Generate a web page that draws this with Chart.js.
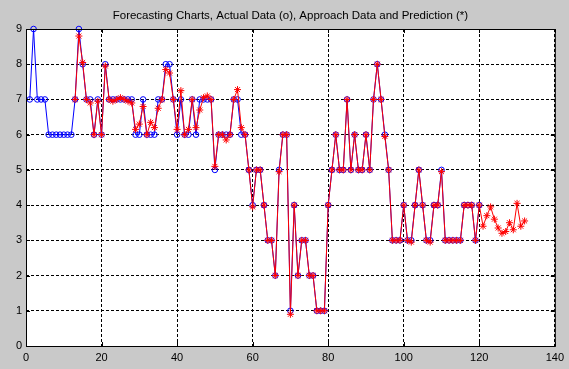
<!DOCTYPE html>
<html>
<head>
<meta charset="utf-8">
<title>Forecasting Charts</title>
<script src="https://cdn.jsdelivr.net/npm/chart.js@4.4.1/dist/chart.umd.min.js"></script>
<style>
  body { margin: 0; background: #c9c9c9; }
  #wrap { width: 569px; height: 369px; }
</style>
</head>
<body>
<div id="wrap"><canvas id="forecast-chart" width="569" height="369"></canvas></div>
<script>
/*////////////////////////////////
///           Data             ///
////////////////////////////////*/

// actual data (o), samples 1..120
const actualData = [
  7, 9, 7, 7, 7, 6, 6, 6, 6, 6, 6, 6,
  7, 9, 8, 7, 7, 6, 7, 6,
  8, 7, 7, 7, 7, 7, 7, 7, 6, 6,
  7, 6, 6, 6, 7, 7, 8, 8, 7, 6,
  7, 6, 6, 7, 6, 7, 7, 7, 7, 5,
  6, 6, 6, 6, 7, 7, 6, 6, 5, 4,
  5, 5, 4, 3, 3, 2, 5, 6, 6, 1,
  4, 2, 3, 3, 2, 2, 1, 1, 1, 4,
  5, 6, 5, 5, 7, 5, 6, 5, 5, 6,
  5, 7, 8, 7, 6, 5, 3, 3, 3, 4,
  3, 3, 4, 5, 4, 3, 3, 4, 4, 5,
  3, 3, 3, 3, 3, 4, 4, 4, 3, 4
];

// approach data and prediction (*), samples 13..132
const predictionStart = 13;
const predictionData = [
  7, 8.8, 8.05, 7, 6.9, 6, 6.95, 6,
  7.95, 7, 6.95, 7, 7.05, 7, 6.95, 6.9, 6.15, 6.3,
  6.8, 6, 6.35, 6.2, 6.75, 7, 7.85, 7.75, 7, 6.15,
  7.25, 6, 6.15, 7, 6.2, 6.7, 7.05, 7.1, 7, 5.1,
  6, 6, 5.85, 6, 7, 7.28, 6.2, 6, 5, 3.95,
  5, 5, 4, 3, 3, 2, 4.95, 6, 6, 0.9,
  4, 2, 3, 3, 2, 2, 1, 1, 1, 4,
  5, 6, 5, 5, 7, 5, 6, 5, 5, 6,
  5, 7, 8, 7, 5.95, 5, 3, 3, 3, 4,
  3, 2.95, 4, 5, 4, 3, 2.95, 4, 4, 4.95,
  3, 3, 3, 3, 3, 4, 4, 4, 3, 4,
  3.4, 3.7, 3.95, 3.6, 3.35, 3.2, 3.25, 3.5, 3.3, 4.05, 3.4, 3.55
];

const xTicks = [0, 20, 40, 60, 80, 100, 120, 140];
const yTicks = [0, 1, 2, 3, 4, 5, 6, 7, 8, 9];

let actualPoints = actualData.map((v, i) => ({x: i + 1, y: v}));
let predictionPoints = predictionData.map((v, i) => ({x: i + predictionStart, y: v}));

/*////////////////////////////////
///     Axes box (matlab)      ///
////////////////////////////////*/

const axesBox = {
  id: 'axesBox',
  beforeDraw(chart) {
    const {ctx, chartArea: a} = chart;
    ctx.save();
    ctx.fillStyle = '#ffffff';
    ctx.fillRect(a.left, a.top, a.right - a.left, a.bottom - a.top);
    ctx.restore();
  },
  afterDraw(chart) {
    const {ctx, chartArea: a, scales} = chart;
    ctx.save();
    ctx.strokeStyle = '#000000';
    ctx.lineWidth = 1;
    ctx.strokeRect(a.left + 0.5, a.top + 0.5, a.right - a.left, a.bottom - a.top);
    // little inside tick marks
    ctx.beginPath();
    xTicks.forEach(v => {
      let px = Math.round(scales.x.getPixelForValue(v)) + 0.5;
      ctx.moveTo(px, a.bottom);
      ctx.lineTo(px, a.bottom - 4);
      ctx.moveTo(px, a.top);
      ctx.lineTo(px, a.top + 4);
    });
    yTicks.forEach(v => {
      let py = Math.round(scales.y.getPixelForValue(v)) + 0.5;
      ctx.moveTo(a.left, py);
      ctx.lineTo(a.left + 4, py);
      ctx.moveTo(a.right, py);
      ctx.lineTo(a.right - 4, py);
    });
    ctx.stroke();
    ctx.restore();
  }
};

/*////////////////////////////////
///          Chart             ///
////////////////////////////////*/

const tickFont = {family: "'Liberation Sans', Arial, sans-serif", size: 11};

let forecast = document.getElementById('forecast-chart').getContext('2d');
let forecastChart = new Chart(forecast, {
  type: 'line',
  data: {
    datasets: [{
      label: 'Approach Data and Prediction',
      data: predictionPoints,
      borderColor: '#ff0000',
      borderWidth: 1,
      pointStyle: 'star',
      pointRadius: 3.5,
      pointBorderColor: '#ff0000',
      pointBackgroundColor: '#ff0000',
      pointBorderWidth: 1,
      tension: 0,
      clip: 8,
      order: 0
    }, {
      label: 'Actual Data',
      data: actualPoints,
      borderColor: '#0000ff',
      borderWidth: 1,
      pointStyle: 'circle',
      pointRadius: 2.8,
      pointBorderColor: '#0000ff',
      pointBackgroundColor: 'rgba(0, 0, 0, 0)',
      pointBorderWidth: 1,
      tension: 0,
      clip: 8,
      order: 1
    }]
  },
  options: {
    responsive: false,
    animation: false,
    events: [],
    layout: {
      padding: {left: 0, right: 9, top: 0, bottom: 0}
    },
    scales: {
      x: {
        type: 'linear',
        min: 0,
        max: 140,
        afterFit: (scale) => { scale.height = 23; },
        afterBuildTicks: (scale) => { scale.ticks = xTicks.map(v => ({value: v})); },
        ticks: {color: '#000', font: tickFont, padding: 5, maxRotation: 0, autoSkip: false},
        grid: {color: '#000', lineWidth: 1, drawTicks: false},
        border: {display: false, dash: [3, 2]}
      },
      y: {
        min: 0,
        max: 9,
        afterFit: (scale) => { scale.width = 26; },
        afterBuildTicks: (scale) => { scale.ticks = yTicks.map(v => ({value: v})); },
        ticks: {color: '#000', font: tickFont, padding: 4, autoSkip: false},
        grid: {color: '#000', lineWidth: 1, drawTicks: false},
        border: {display: false, dash: [3, 2]}
      }
    },
    plugins: {
      legend: {
        display: false
      },
      tooltip: {
        enabled: false
      },
      title: {
        display: true,
        fullSize: false,
        text: 'Forecasting Charts, Actual Data (o), Approach Data and Prediction (*)',
        color: '#000',
        font: {family: "'Liberation Sans', Arial, sans-serif", size: 11.5, weight: 'normal'},
        padding: {top: 9, bottom: 6.2}
      }
    }
  },
  plugins: [axesBox]
});
</script>
</body>
</html>
